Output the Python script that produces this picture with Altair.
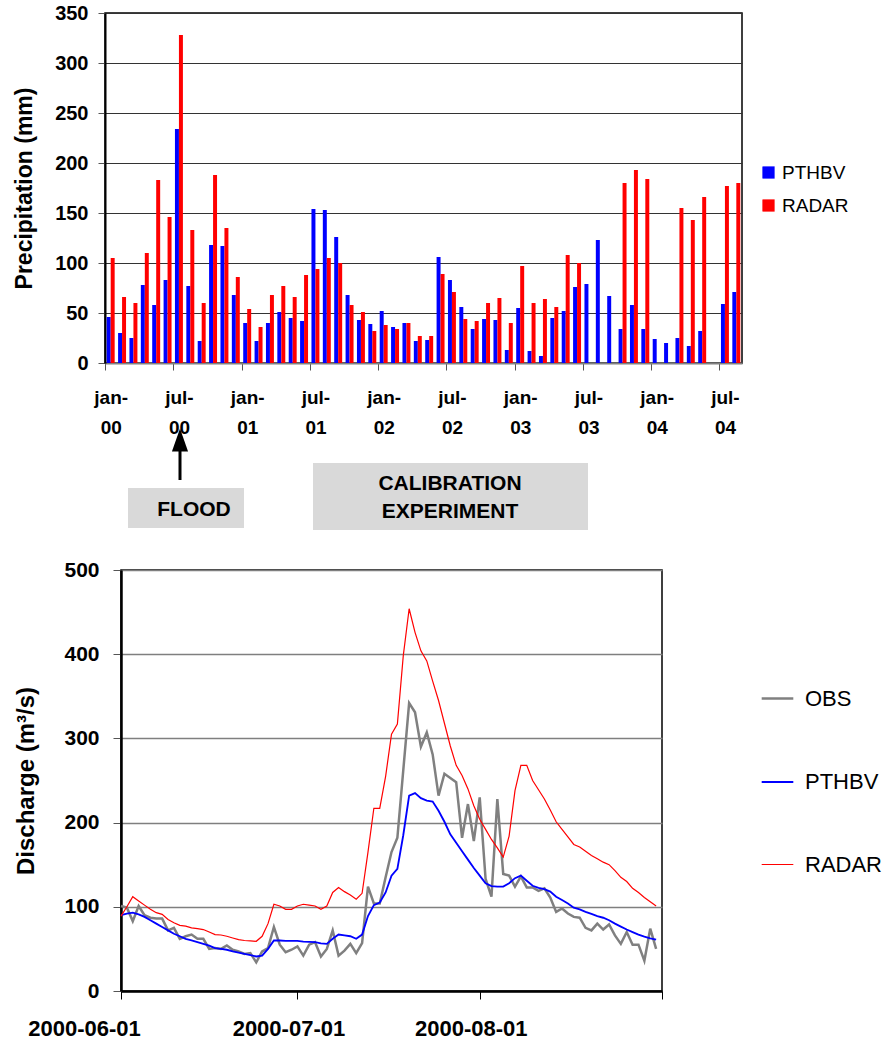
import altair as alt
import pandas as pd

FONT = "Liberation Sans"

# ---------------- data: monthly precipitation (mm) ----------------
month_abbr = ["jan", "feb", "mar", "apr", "mai", "jun", "jul", "aug", "sep", "okt", "nov", "des"]
year_abbr = ["00", "01", "02", "03", "04"]
months = [f"{m}-{y}" for y in year_abbr for m in month_abbr][:56]

pthbv_month = [46, 30, 25, 78, 58, 83, 234, 77, 22, 118, 117, 68,
               40, 22, 40, 51, 45, 42, 154, 153, 126, 68, 43, 39,
               52, 36, 40, 22, 23, 106, 83, 56, 34, 44, 43, 13,
               55, 12, 7, 45, 52, 76, 79, 123, 67, 34, 58, 34,
               24, 20, 25, 17, 32, None, 59, 71]
radar_month = [105, 66, 60, 110, 183, 146, 328, 133, 60, 188, 135, 86,
               54, 36, 68, 77, 66, 88, 94, 105, 100, 58, 51, 32,
               38, 34, 40, 27, 27, 89, 71, 44, 42, 60, 65, 40,
               97, 60, 64, 56, 108, 100, None, None, None, 180, 193, 184,
               None, None, 155, 143, 166, None, 177, 180]
bar_series = ["PTHBV", "RADAR"]
bar_colors = ["#0000FF", "#FF0000"]

# ---------------- data: daily discharge (m3/s), 2000-06-01 .. 2000-08-31 ----------------
start_day = "2000-06-01"
obs = [101, 99, 83, 101, 90, 87, 86, 86, 72, 75, 62, 65, 67, 62, 62, 50, 51, 50, 54, 49,
       47, 44, 45, 34, 47, 51, 76, 55, 46, 49, 53, 42, 55, 58, 41, 50, 72, 42, 48, 56,
       45, 57, 124, 104, 104, 135, 165, 182, 262, 342, 331, 290, 307, 281, 232, 258, 253, 248, 182, 222,
       178, 230, 133, 112, 228, 139, 137, 124, 136, 123, 123, 119, 122, 111, 94, 98, 92, 88, 87, 75,
       72, 80, 73, 79, 66, 56, 70, 55, 55, 36, 74, 50]
pthbv_day = [90, 92, 93, 91, 88, 84, 80, 76, 72, 68, 65, 62, 60, 58, 56, 54, 51, 50, 49, 47,
             45.5, 44, 42.5, 41, 42, 50, 60, 60, 59.5, 59.5, 59.5, 58.6, 58.4, 58, 56.6, 56, 62, 67, 66, 65,
             62, 67, 89, 102, 105, 117, 137, 145, 185, 232, 235, 229, 226, 225, 214, 201, 186, 176, 166, 156,
             146, 137, 128, 124.5, 124, 124, 128, 134, 137, 131, 125, 122.5, 121, 118, 112, 108, 104, 99, 97, 94,
             91.5, 89, 87, 84, 80, 76.5, 73, 70, 67, 64.5, 62.5, 61]
radar_day = [89, 100, 112, 107, 102, 97, 93, 91, 85, 81, 78, 77, 75, 74, 73, 70, 67, 66.5, 65, 63,
             61, 60, 59.5, 59, 65, 80, 103, 101, 97, 97, 101, 103, 102, 101, 97, 101, 117, 123, 118, 114,
             109, 116, 165, 217, 217, 255, 305, 317, 398, 454, 426, 404, 392, 368, 345, 318, 291, 268, 256, 240,
             220, 204, 192, 180, 170, 159, 184, 238, 268, 268, 250, 239, 228, 215, 201, 192, 183, 174, 171, 166,
             161, 157, 153, 150, 143, 135, 130, 122, 117, 111, 106, 101]
line_series = ["OBS", "PTHBV", "RADAR"]
line_colors = ["#808080", "#0000FF", "#FF0000"]
line_widths = [2.5, 1.2, 1.2]

annotations = ["FLOOD", "CALIBRATION\nEXPERIMENT"]

# ---------------- tables ----------------
rows = []
for i, m in enumerate(months):
    for s, vals in zip(bar_series, [pthbv_month, radar_month]):
        if vals[i] is not None:
            rows.append({"month": m, "series": s, "value": vals[i]})
bars_df = pd.DataFrame(rows)

dates = pd.date_range(start_day, periods=len(obs), freq="D").strftime("%Y-%m-%dT00:00:00")
lrows = []
for s, vals in zip(line_series, [obs, pthbv_day, radar_day]):
    for d, v in zip(dates, vals):
        lrows.append({"date": d, "series": s, "value": v})
lines_df = pd.DataFrame(lrows)

one = pd.DataFrame({"a": [0]})

# ---------------- top chart ----------------
TW, TH = 637, 350
label_months = [m for m in months if m.startswith("jan") or m.startswith("jul")]

bars = alt.Chart(bars_df).mark_bar().encode(
    x=alt.X("month:N", sort=months,
            scale=alt.Scale(domain=months, paddingInner=0.3, paddingOuter=0.15),
            axis=alt.Axis(values=label_months, title=None, labelAngle=0,
                          labelExpr="[substring(datum.label, 0, 4), substring(datum.label, 4)]",
                          labelFontSize=19, labelFontWeight="bold", labelLineHeight=30,
                          labelPadding=18, tickSize=7, bandPosition=0, tickOffset=-1.7, labelOffset=1.7,
                          tickColor="#555", domainColor="#808080", domainWidth=2,
                          labelColor="black", grid=False)),
    xOffset=alt.XOffset("series:N", sort=bar_series, scale=alt.Scale(domain=bar_series, paddingInner=0, paddingOuter=0)),
    y=alt.Y("value:Q", scale=alt.Scale(domain=[0, 350], nice=False),
            axis=alt.Axis(values=list(range(0, 351, 50)), title="Precipitation (mm)",
                          titleFontSize=23, titleFontWeight="bold", titlePadding=18, titleColor="black",
                          labelFontSize=20, labelFontWeight="bold", labelPadding=10, tickSize=7,
                          labelColor="black", tickColor="#555", domainColor="black", domainWidth=2,
                          grid=True, gridColor="#333333", gridWidth=1)),
    color=alt.Color("series:N", sort=bar_series,
                    scale=alt.Scale(domain=bar_series, range=bar_colors),
                    legend=alt.Legend(title=None, orient="none", legendX=654, legendY=150,
                                      symbolType="square", symbolSize=150, labelFontSize=19,
                                      labelColor="black", rowPadding=13, labelOffset=4,
                                      symbolStrokeWidth=0)),
)

box_color = "#D9D9D9"
flood_box = alt.Chart(one).mark_rect(color=box_color).encode(
    x=alt.value(23), x2=alt.value(139), y=alt.value(475), y2=alt.value(515))
cal_box = alt.Chart(one).mark_rect(color=box_color).encode(
    x=alt.value(208), x2=alt.value(483), y=alt.value(450), y2=alt.value(517))
flood_txt = alt.Chart(one).mark_text(fontSize=21, fontWeight="bold", color="black",
                                     align="center", baseline="middle").encode(
    x=alt.value(89), y=alt.value(497), text=alt.value(annotations[0]))
cal_txt = alt.Chart(one).mark_text(fontSize=21, fontWeight="bold", color="black",
                                   align="center", baseline="middle", lineBreak="\n",
                                   lineHeight=28).encode(
    x=alt.value(345), y=alt.value(471), text=alt.value(annotations[1]))
arrow_shaft = alt.Chart(one).mark_rule(color="black", strokeWidth=3).encode(
    x=alt.value(75), y=alt.value(436), y2=alt.value(467))
arrow_head = alt.Chart(one).mark_point(shape="M0,-1L0.7,1L-0.7,1Z", filled=True, color="black",
                                       size=529, opacity=1, strokeWidth=0).encode(
    x=alt.value(75), y=alt.value(427))

top = alt.layer(bars, flood_box, cal_box, flood_txt, cal_txt, arrow_shaft, arrow_head).properties(
    width=TW, height=TH)

# ---------------- bottom chart ----------------
BW, BH = 541, 421
dt = lambda m: alt.DateTime(year=2000, month=m, date=1)

legend_lines = alt.Legend(title=None, orient="none", legendX=655, legendY=111,
                          symbolType="stroke", symbolSize=1000,
                          labelFontSize=22, labelColor="black", rowPadding=55,
                          labelOffset=10)

lines = alt.Chart(lines_df).mark_line(interpolate="linear").encode(
    x=alt.X("date:T", scale=alt.Scale(domain=[dt(6), dt(9)]),
            axis=alt.Axis(values=[dt(6), dt(7), dt(8), dt(9)], format="%Y-%m-%d", title=None,
                          labelExpr="month(datum.value) == 8 ? '' : datum.label",
                          labelOffset=alt.condition("month(datum.value) == 5", alt.value(-37), alt.value(-9)),
                          labelFontSize=22, labelFontWeight="bold", labelFlush=False,
                          labelOverlap=False, labelPadding=19, tickSize=8, labelColor="black",
                          tickColor="black", domainColor="black", domainWidth=2.5, grid=False)),
    y=alt.Y("value:Q", scale=alt.Scale(domain=[0, 500], nice=False),
            axis=alt.Axis(values=list(range(0, 501, 100)), title="Discharge (m³/s)",
                          titleFontSize=24, titleFontWeight="bold", titlePadding=25, titleColor="black",
                          labelFontSize=21, labelFontWeight="bold", labelPadding=14, tickSize=8,
                          labelColor="black", tickColor="#555", domainColor="black", domainWidth=2.5,
                          grid=True, gridColor="#7F7F7F", gridWidth=1.5)),
    color=alt.Color("series:N", sort=line_series,
                    scale=alt.Scale(domain=line_series, range=line_colors),
                    legend=legend_lines),
    strokeWidth=alt.StrokeWidth("series:N", sort=line_series,
                                scale=alt.Scale(domain=line_series, range=line_widths),
                                legend=legend_lines),
)

bottom = lines.properties(width=BW, height=BH)

# tiny invisible cell used only to shift the lower panel to the right of the upper one
spacer = alt.Chart(one).mark_point(size=0, opacity=0).encode(
    x=alt.value(0), y=alt.value(0)
).properties(width=1, height=1, view=alt.ViewBackground(strokeOpacity=0))

lower_row = alt.hconcat(spacer, bottom, spacing=-92)

chart = alt.vconcat(top, lower_row, spacing=27).resolve_scale(
    color="independent", x="independent", y="independent", strokeWidth="independent"
).properties(
    padding={"left": 12, "top": 2, "right": 0, "bottom": 0}
).configure(font=FONT).configure_view(stroke="black", strokeWidth=1.5)

chart.save("out.html", embed_options={"renderer": "svg", "actions": False})
